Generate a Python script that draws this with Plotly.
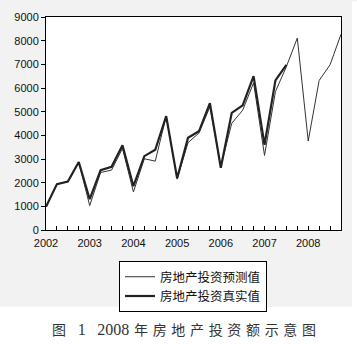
import plotly.graph_objects as go

quarters = [2002 + i * 0.25 for i in range(28)]
forecast = [980, 1940, 2050, 2870, 1030, 2430, 2530, 3450,
            1610, 3010, 2910, 4810, 2150, 3690, 4100, 5200,
            2670, 4510, 5060, 6220, 3150, 5850, 6900, 8110,
            3760, 6320, 6980, 8270]
actual = [980, 1940, 2050, 2870, 1300, 2530, 2670, 3580,
          1850, 3120, 3390, 4810, 2190, 3900, 4170, 5360,
          2630, 4950, 5270, 6500, 3600, 6320, 6980]
year_ticks = [2002, 2003, 2004, 2005, 2006, 2007, 2008]
y_ticks = list(range(0, 9001, 1000))
name_forecast = "房地产投资预测值"
name_actual = "房地产投资真实值"
en = "\u2002"
th = "\u2004"
caption = ("图" + en + th + "<span style='font-size:16px'>1</span>" + en + th
           + "<span style='font-size:16px'>2008</span>" + th + th.join("年房地产投资额示意图"))

fig = go.Figure()
fig.add_trace(go.Scatter(x=quarters, y=forecast, mode="lines", name=name_forecast,
                         line=dict(color="#333333", width=1)))
fig.add_trace(go.Scatter(x=quarters[:len(actual)], y=actual, mode="lines", name=name_actual,
                         line=dict(color="#222222", width=2.2)))

W, H = 357, 344
L, R, T, B = 46, 16, 11, 114
pw, ph = W - L - R, H - T - B

def px_x(x):
    return (x - L) / pw

def px_y(y):
    return (H - B - y) / ph

fig.update_layout(
    width=W, height=H,
    margin=dict(l=L, r=R, t=T, b=B, pad=0),
    paper_bgcolor="#f2f2f2",
    plot_bgcolor="white",
    font=dict(family="Liberation Sans, Arial, sans-serif", size=11, color="#111111"),
    showlegend=True,
    legend=dict(
        x=px_x(119), y=px_y(262), xanchor="left", yanchor="top",
        bgcolor="white", bordercolor="black", borderwidth=1,
        font=dict(family="Noto Sans CJK SC", size=12.5, color="#111111"),
        tracegroupgap=0, itemwidth=30,
    ),
    xaxis=dict(
        range=[2002, 2008.75], tickvals=year_ticks, ticktext=[str(y) for y in year_ticks],
        ticks="inside", ticklen=4, tickcolor="black", showline=True, linecolor="black",
        linewidth=1, mirror=True, showgrid=False, zeroline=False, ticklabelstandoff=3,
        minor=dict(dtick=0.25, tick0=2002, ticks="inside", ticklen=4, tickcolor="black", showgrid=False),
    ),
    yaxis=dict(
        range=[0, 9000], tickvals=y_ticks, ticks="outside", ticklen=4, tickcolor="black",
        showline=True, linecolor="black", linewidth=1, mirror=True, showgrid=False,
        zeroline=False,
    ),
    shapes=[
        dict(type="rect", xref="paper", yref="paper", x0=px_x(-5), x1=px_x(W + 5),
             y0=px_y(H + 5), y1=px_y(309), fillcolor="white", line=dict(width=0), layer="below"),
        dict(type="rect", xref="paper", yref="paper", x0=px_x(352), x1=px_x(W + 5),
             y0=px_y(H + 5), y1=px_y(-5), fillcolor="white", line=dict(width=0), layer="below"),
    ],
    annotations=[
        dict(text=caption, xref="paper", yref="paper", x=px_x(184), y=px_y(332),
             xanchor="center", yanchor="middle", showarrow=False,
             font=dict(family="Liberation Serif, Noto Sans CJK SC", size=14, color="#333333")),
    ],
)

fig.write_html("out.html")
